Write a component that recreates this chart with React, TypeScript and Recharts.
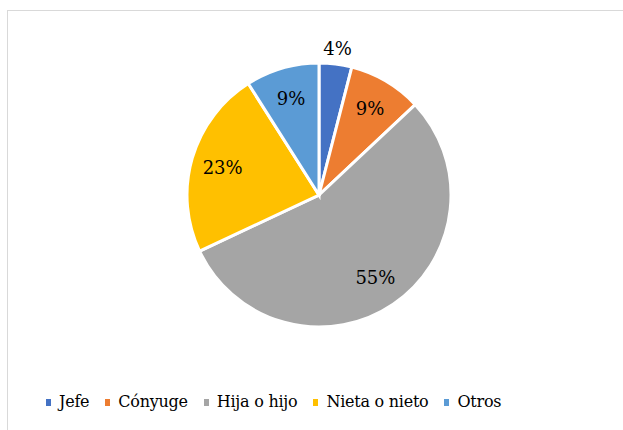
import React from "react"
import { PieChart, Pie, Cell, Legend } from "recharts"

const categories = ["Jefe", "Cónyuge", "Hija o hijo", "Nieta o nieto", "Otros"]
const shares = [4, 9, 55, 23, 9]
const colors = ["#4472C4", "#ED7D31", "#A5A5A5", "#FFC000", "#5B9BD5"]

const data = categories.map((name, i) => ({ name, value: shares[i] }))

const FONT = "'DejaVu Serif', serif"
const RAD = Math.PI / 180

// etiquetas dentro del sector; las pequeñas van por fuera
const renderLabel = ({ cx, cy, midAngle, outerRadius, percent }: any) => {
  const r = percent < 0.05 ? outerRadius * 1.12 : outerRadius * 0.76
  const x = cx + r * Math.cos(-midAngle * RAD)
  const y = cy + r * Math.sin(-midAngle * RAD)
  return (
    <text
      x={x}
      y={y}
      fill="#000"
      textAnchor="middle"
      dominantBaseline="central"
      fontFamily={FONT}
      fontSize={18}
    >
      {`${Math.round(percent * 100)}%`}
    </text>
  )
}

const LegendContent = () => (
  <div
    style={{
      display: "flex",
      alignItems: "center",
      paddingLeft: 46,
      fontFamily: FONT,
      fontSize: 16,
      letterSpacing: -0.25,
      color: "#000",
      lineHeight: "24px",
    }}
  >
    {categories.map((c, i) => (
      <div key={c} style={{ display: "flex", alignItems: "center", marginRight: 16 }}>
        <span style={{ display: "inline-block", width: 5, height: 7, background: colors[i], marginRight: 8 }} />
        <span>{c}</span>
      </div>
    ))}
  </div>
)

export default function App() {
  return (
    <div style={{ position: "fixed", left: 0, top: 0, width: 623, height: 430, overflow: "hidden", background: "#fff" }}>
      <div
        style={{
          position: "absolute",
          left: 7,
          top: 10,
          width: 700,
          height: 500,
          border: "1px solid #d9d9d9",
        }}
      />
      <div style={{ position: "absolute", left: 0, top: 0 }}>
        <PieChart width={623} height={430} margin={{ top: 0, right: 0, bottom: 0, left: 0 }}>
          <Pie
            data={data}
            dataKey="value"
            nameKey="name"
            cx={319}
            cy={195}
            outerRadius={132}
            startAngle={90}
            endAngle={-270}
            stroke="#fff"
            strokeWidth={3}
            label={renderLabel}
            labelLine={false}
            isAnimationActive={false}
          >
            {data.map((d, i) => (
              <Cell key={d.name} fill={colors[i]} />
            ))}
          </Pie>
          <Legend
            verticalAlign="bottom"
            content={<LegendContent />}
            wrapperStyle={{ top: 390, bottom: "auto", left: 0, width: 623 }}
          />
        </PieChart>
      </div>
    </div>
  )
}
